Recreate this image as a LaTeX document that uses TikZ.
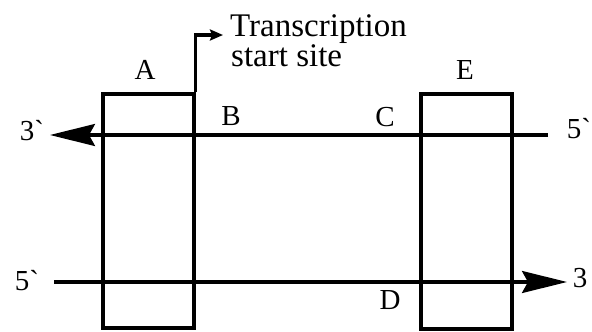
\documentclass[tikz,border=0pt]{standalone}
\usepackage{fontspec}
\setmainfont{Liberation Serif}[Ligatures=TeXOff]
\usetikzlibrary{arrows.meta}
\begin{document}
\begin{tikzpicture}[x=1pt,y=-1pt,
  boxshape/.style={draw,line width=3.1pt,inner sep=0pt},
  strand/.style={line width=3.1pt},
  lbl/.style={font=\fontsize{29}{30}\selectfont,inner sep=0pt},
  endlbl/.style={font=\fontsize{29}{30}\selectfont,inner sep=0pt},
  tsslbl/.style={anchor=base west,inner sep=0pt,font=\fontsize{33}{30}\selectfont},
  bigtip/.style={-{Stealth[length=45pt,width=22pt,inset=6pt]}}]
\useasboundingbox (0,0) rectangle (592,332);
% boxes
\node[boxshape,minimum width=91pt,minimum height=234pt] (boxA) at (148.5,211) {};
\node[boxshape,minimum width=91pt,minimum height=235pt] (boxE) at (466.5,211.5) {};
% strands
\coordinate (tr) at (548,135);
\coordinate (tl) at (50,135);
\coordinate (bl) at (54,282);
\coordinate (br) at (567,282);
\draw[strand,bigtip] (tr) -- (tl);
\draw[strand,bigtip] (bl) -- (br);
% transcription start arrow
\coordinate (tss) at (223,35);
\draw[strand,-{Stealth[length=13pt,width=11pt,inset=2pt]},line join=miter]
  (boxA.north east) |- (tss);
% labels
\node[tsslbl] (tsstext1) at (230,36) {Transcription};
\node[tsslbl] (tsstext2) at (231,66) {start site};
\node[lbl] (labA) at (145,70) {A};
\node[lbl] (labE) at (465,70) {E};
\node[lbl] (labB) at (231,116) {B};
\node[lbl] (labC) at (385,117) {C};
\node[lbl] (labD) at (390,300) {D};
\node[endlbl] (l3a) at (32,131) {3`};
\node[endlbl] (l5a) at (27,281) {5`};
\node[endlbl] (r5a) at (579,129) {5`};
\node[endlbl] (r3a) at (580,278) {3};
\end{tikzpicture}
\end{document}
